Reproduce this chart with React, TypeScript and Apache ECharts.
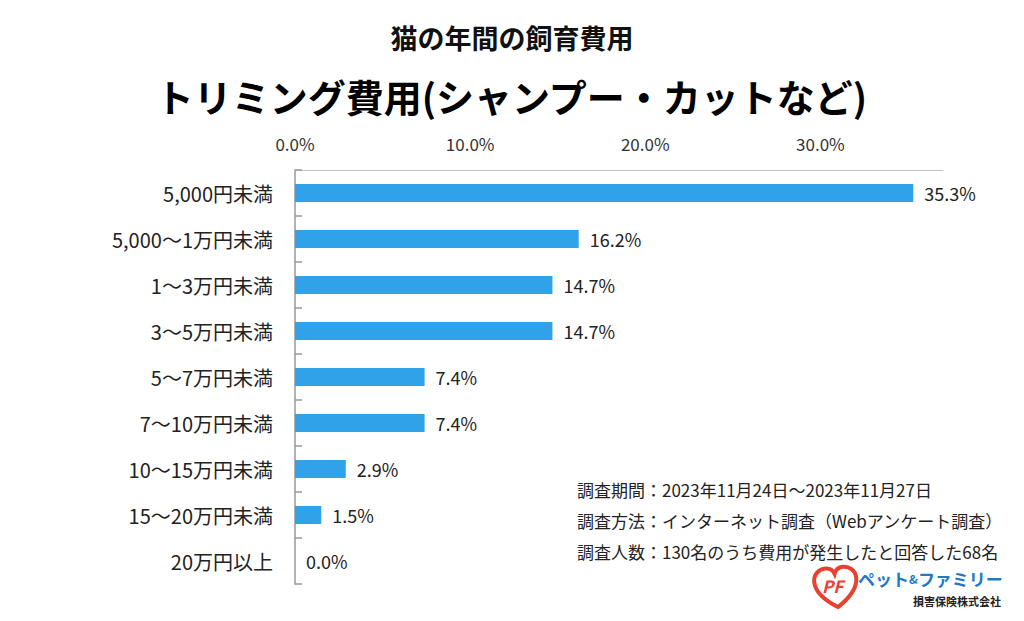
import React, { useEffect, useRef } from "react";
import * as echarts from "echarts";

const categories = [
  "5,000円未満",
  "5,000～1万円未満",
  "1～3万円未満",
  "3～5万円未満",
  "5～7万円未満",
  "7～10万円未満",
  "10～15万円未満",
  "15～20万円未満",
  "20万円以上",
];
const values = [35.3, 16.2, 14.7, 14.7, 7.4, 7.4, 2.9, 1.5, 0.0];
const title = "猫の年間の飼育費用";
const subtitle = "トリミング費用(シャンプー・カットなど)";
const notes = [
  "調査期間：2023年11月24日～2023年11月27日",
  "調査方法：インターネット調査（Webアンケート調査）",
  "調査人数：130名のうち費用が発生したと回答した68名",
];

const FONT = "'Noto Sans CJK JP', 'Noto Sans', sans-serif";

const heartD =
  "M50,92 C22,74 2,54 2,30 C2,12 16,2 30,2 C40,2 47,8 50,16 C53,8 60,2 70,2 C84,2 98,12 98,30 C98,54 78,74 50,92 Z";
echarts.graphic.registerShape("heartLogo", echarts.graphic.extendPath(heartD, {}));

export default function App() {
  const ref = useRef<HTMLDivElement>(null);
  useEffect(() => {
    if (!ref.current) return;
    const chart = echarts.init(ref.current, null, { renderer: "svg" });
    chart.setOption({
      animation: false,
      backgroundColor: "#ffffff",
      grid: { left: 295, top: 170, right: 81, bottom: 37, containLabel: false },
      graphic: [
        {
          type: "text",
          left: "center",
          top: 24,
          style: { text: title, font: `bold 27px ${FONT}`, fill: "#111" },
        },
        {
          type: "text",
          left: "center",
          top: 76,
          style: { text: subtitle, font: `bold 38px ${FONT}`, fill: "#000" },
        },
        ...notes.map((t, i) => ({
          type: "text",
          left: 577,
          top: 481 + i * 31,
          style: { text: t, font: `17px ${FONT}`, fill: "#222" },
        })),
        {
          type: "heartLogo",
          x: 812,
          y: 569,
          scaleX: 0.44,
          scaleY: 0.44,
          rotation: 0.1,
          style: { fill: "#fff", stroke: "#e8412f", lineWidth: 9 },
        },
        {
          type: "text",
          x: 822,
          y: 577,
          style: { text: "PF", font: `italic bold 17px ${FONT}`, fill: "#e8412f" },
        },
        {
          type: "text",
          x: 858,
          y: 570,
          style: {
            text: "{a|ペット}{b|&}{a|ファミリー}",
            rich: {
              a: { font: `bold 17px ${FONT}`, fill: "#1f78c8" },
              b: { font: `bold 12px ${FONT}`, fill: "#1f78c8" },
            },
          },
        },
        {
          type: "text",
          x: 913,
          y: 595,
          style: { text: "損害保険株式会社", font: `bold 11px ${FONT}`, fill: "#222" },
        },
      ],
      xAxis: {
        type: "value",
        position: "top",
        min: 0,
        max: 37,
        interval: 10,
        axisLine: { show: true, lineStyle: { color: "#c4c4c4", width: 1 } },
        axisTick: { show: false },
        splitLine: { show: false },
        axisLabel: {
          showMaxLabel: false,
          margin: 18,
          fontSize: 17,
          fontFamily: FONT,
          color: "#333",
          formatter: (v: number) => (v % 10 === 0 ? v.toFixed(1) + "%" : ""),
        },
      },
      yAxis: {
        type: "category",
        data: categories,
        inverse: true,
        axisLine: { show: true, lineStyle: { color: "#999", width: 1.5 } },
        axisTick: { show: true, inside: true, length: 7, lineStyle: { color: "#999", width: 1.5 } },
        axisLabel: {
          margin: 22,
          fontSize: 20,
          fontFamily: FONT,
          color: "#222",
        },
      },
      series: [
        {
          type: "bar",
          data: values,
          barWidth: 18,
          itemStyle: { color: "#30A2EA" },
          label: {
            show: true,
            position: "right",
            distance: 11,
            fontSize: 18,
            fontFamily: FONT,
            color: "#222",
            formatter: (p: any) => Number(p.value).toFixed(1) + "%",
          },
        },
      ],
    });
    return () => chart.dispose();
  }, []);
  return (
    <div
      ref={ref}
      style={{ position: "fixed", left: 0, top: 0, width: 1024, height: 621 }}
    />
  );
}
